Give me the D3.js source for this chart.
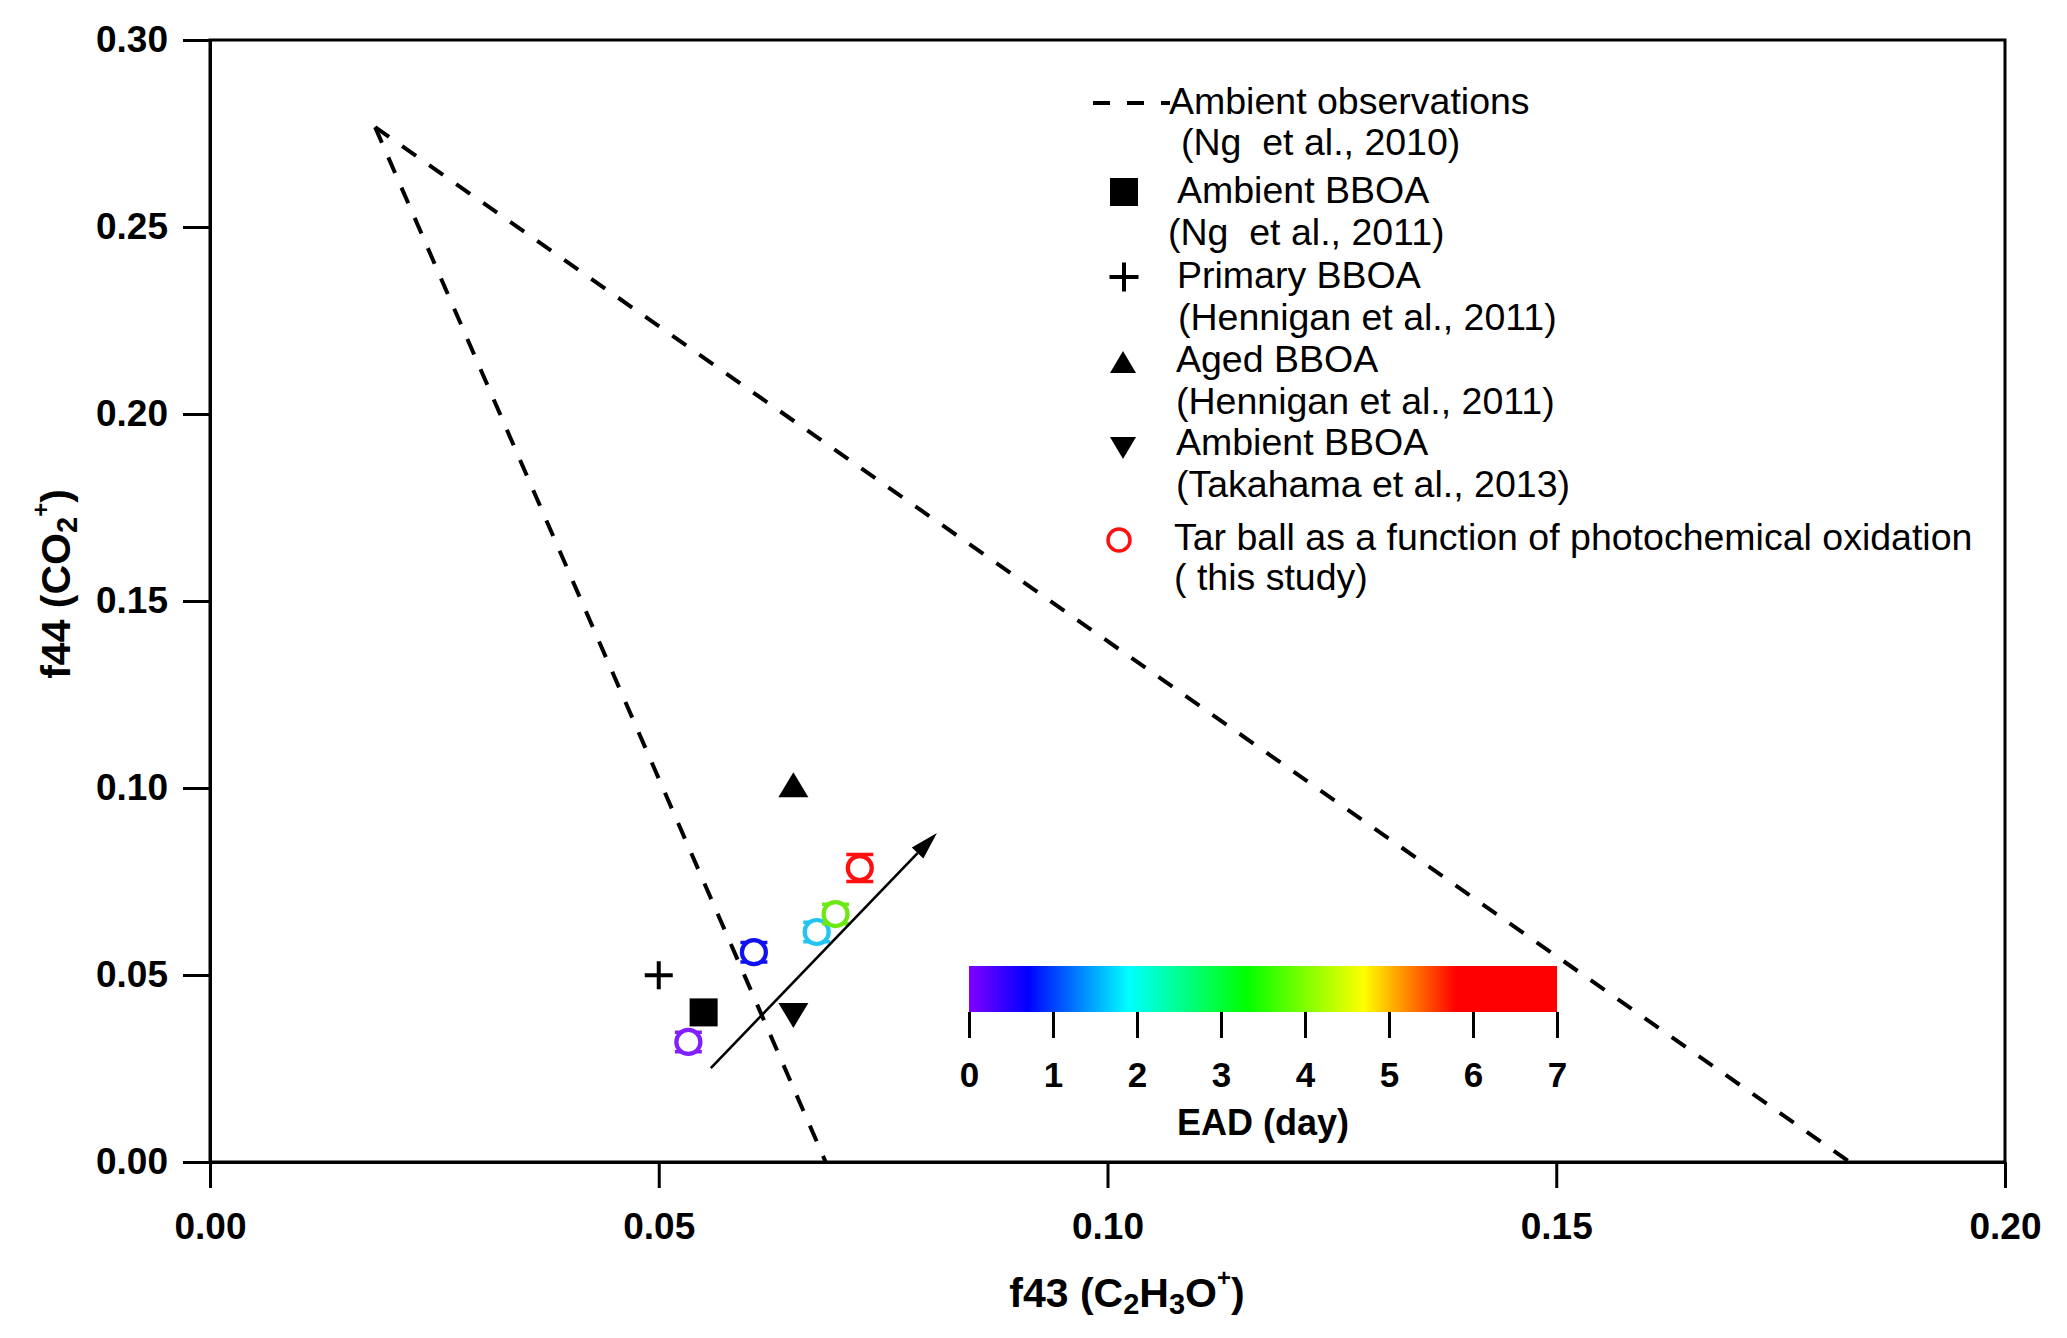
<!DOCTYPE html>
<html><head><meta charset="utf-8">
<script src="https://cdn.jsdelivr.net/npm/d3@7"></script>
<style>
body{margin:0;background:#fff}
text{font-family:"Liberation Sans",Arial,Helvetica,sans-serif;white-space:pre}
</style>
</head><body>
<svg id="chart" width="2067" height="1338"></svg>
<script>
// ---------- data ----------
const xTicks = [0, 0.05, 0.10, 0.15, 0.20];
const yTicks = [0, 0.05, 0.10, 0.15, 0.20, 0.25, 0.30];

// Ng et al. (2010) triangle: apex and two bottom ends
const ngApex = [0.0184, 0.2767];
const ngLeftEnd = [0.0686, 0.0];
const ngRightEnd = [0.1827, 0.0];

// reference points [f43, f44]
const ambientBBOA_Ng = [0.0550, 0.0400];
const primaryBBOA = [0.0500, 0.0499];
const agedBBOA = [0.0650, 0.1009];
const ambientBBOA_Takahama = [0.0650, 0.0392];

// tar ball (this study)
const tarF43 = [0.0533, 0.0606, 0.0676, 0.0697, 0.0724];
const tarF44 = [0.0321, 0.0561, 0.0615, 0.0663, 0.0786];
const tarErr = [0.0026, 0.0026, 0.0026, 0.0026, 0.0036];
const tarColors = ["#8020ff", "#1010f0", "#22c4f2", "#6ee814", "#ff1010"];

// arrow of oxidation
const arrowStart = [0.0558, 0.0251];
const arrowEnd = [0.0810, 0.0880];

// colour bar (EAD, day)
const cbTicks = [0, 1, 2, 3, 4, 5, 6, 7];
const cbStopDays = [0, 0.7, 1.9, 3.3, 4.7, 5.8, 7];
const cbStopColors = ["#8000ff", "#0000ff", "#00ffff", "#00ff00", "#ffff00", "#ff0000", "#ff0000"];

// legend
const legendLines = [
  "Ambient observations", "(Ng  et al., 2010)",
  "Ambient BBOA", "(Ng  et al., 2011)",
  "Primary BBOA", "(Hennigan et al., 2011)",
  "Aged BBOA", "(Hennigan et al., 2011)",
  "Ambient BBOA", "(Takahama et al., 2013)",
  "Tar ball as a function of photochemical oxidation", "( this study)"
];

// ---------- layout ----------
const svg = d3.select("#chart");
const L = 210, R = 2005, T = 40, B = 1162;
const x = d3.scaleLinear().domain([0, 0.2]).range([L, R]);
const y = d3.scaleLinear().domain([0, 0.3]).range([B, T]);

svg.append("rect").attr("width", 2067).attr("height", 1338).attr("fill", "#fff");

// frame
svg.append("rect").attr("x", L).attr("y", T).attr("width", R - L).attr("height", B - T)
  .attr("fill", "none").attr("stroke", "#000").attr("stroke-width", 3);

// axes
const yAxis = svg.append("g").attr("transform", `translate(${L},0)`)
  .call(d3.axisLeft(y).tickValues(yTicks).tickFormat(d3.format(".2f")).tickSize(27).tickSizeOuter(0).tickPadding(15));
const xAxis = svg.append("g").attr("transform", `translate(0,${B})`)
  .call(d3.axisBottom(x).tickValues(xTicks).tickFormat(d3.format(".2f")).tickSize(26).tickSizeOuter(0).tickPadding(25));
[yAxis, xAxis].forEach(g => {
  g.select(".domain").attr("stroke-width", 3);
  g.selectAll(".tick line").attr("stroke-width", 3);
  g.selectAll(".tick text").attr("font-size", 37).attr("font-weight", "bold")
    .attr("fill", "#000").style("font-family", '"Liberation Sans",Arial,sans-serif');
});

// axis titles
const xt = svg.append("text").attr("x", 1127).attr("y", 1307).attr("text-anchor", "middle")
  .attr("font-size", 41).attr("font-weight", "bold");
xt.append("tspan").text("f43 (C");
xt.append("tspan").attr("dy", 7).attr("font-size", 29).text("2");
xt.append("tspan").attr("dy", -7).text("H");
xt.append("tspan").attr("dy", 7).attr("font-size", 29).text("3");
xt.append("tspan").attr("dy", -7).text("O");
xt.append("tspan").attr("dy", -21).attr("font-size", 24).text("+");
xt.append("tspan").attr("dy", 21).text(")");

const yt = svg.append("text").attr("transform", "translate(70,584) rotate(-90)")
  .attr("text-anchor", "middle").attr("font-size", 41).attr("font-weight", "bold");
yt.append("tspan").text("f44 (CO");
yt.append("tspan").attr("dy", 7).attr("font-size", 29).text("2");
yt.append("tspan").attr("dy", -28).attr("font-size", 24).text("+");
yt.append("tspan").attr("dy", 21).text(")");

// dashed Ng triangle
const line = d3.line().x(d => x(d[0])).y(d => y(d[1]));
[[ngApex, ngLeftEnd], [ngApex, ngRightEnd]].forEach(seg => {
  svg.append("path").attr("d", line(seg)).attr("fill", "none").attr("stroke", "#000")
    .attr("stroke-width", 4).attr("stroke-dasharray", "17,16");
});

// reference markers
function triPath(cx, cy, w, h, up) {
  return up
    ? `M${cx - w / 2},${cy + h / 2}L${cx + w / 2},${cy + h / 2}L${cx},${cy - h / 2}Z`
    : `M${cx - w / 2},${cy - h / 2}L${cx + w / 2},${cy - h / 2}L${cx},${cy + h / 2}Z`;
}
function drawSquare(cx, cy, s) {
  svg.append("rect").attr("x", cx - s / 2).attr("y", cy - s / 2).attr("width", s).attr("height", s).attr("fill", "#000");
}
function drawPlus(cx, cy, s) {
  svg.append("path").attr("d", `M${cx - s / 2},${cy}H${cx + s / 2}M${cx},${cy - s / 2}V${cy + s / 2}`)
    .attr("stroke", "#000").attr("stroke-width", 4).attr("fill", "none");
}
drawSquare(x(ambientBBOA_Ng[0]), y(ambientBBOA_Ng[1]), 28);
drawPlus(x(primaryBBOA[0]), y(primaryBBOA[1]), 28);
svg.append("path").attr("d", triPath(x(agedBBOA[0]), y(agedBBOA[1]), 30, 25, true)).attr("fill", "#000");
svg.append("path").attr("d", triPath(x(ambientBBOA_Takahama[0]), y(ambientBBOA_Takahama[1]), 30, 25, false)).attr("fill", "#000");

// tar ball points with error bars
tarF43.forEach((f43, i) => {
  const cx = x(f43), cy = y(tarF44[i]);
  const y1 = y(tarF44[i] + tarErr[i]), y2 = y(tarF44[i] - tarErr[i]);
  svg.append("path").attr("d", `M${cx},${y1}V${y2}M${cx - 13.5},${y1}H${cx + 13.5}M${cx - 13.5},${y2}H${cx + 13.5}`)
    .attr("stroke", tarColors[i]).attr("stroke-width", 3.5).attr("fill", "none");
  svg.append("circle").attr("cx", cx).attr("cy", cy).attr("r", 12)
    .attr("fill", "#fff").attr("stroke", tarColors[i]).attr("stroke-width", 4.2);
});

// arrow
{
  const x1 = x(arrowStart[0]), y1 = y(arrowStart[1]), x2 = x(arrowEnd[0]), y2 = y(arrowEnd[1]);
  const ang = Math.atan2(y2 - y1, x2 - x1), hl = 28, hw = 8;
  const bx = x2 - hl * Math.cos(ang), by = y2 - hl * Math.sin(ang);
  svg.append("path").attr("d", `M${x1},${y1}L${bx},${by}`).attr("stroke", "#000").attr("stroke-width", 2.6);
  svg.append("path").attr("d",
    `M${x2},${y2}L${bx + hw * Math.sin(ang)},${by - hw * Math.cos(ang)}L${bx - hw * Math.sin(ang)},${by + hw * Math.cos(ang)}Z`)
    .attr("fill", "#000");
}

// colour bar
const cb = d3.scaleLinear().domain([0, 7]).range([969, 1557]);
const grad = svg.append("defs").append("linearGradient").attr("id", "ead").attr("x1", "0%").attr("x2", "100%");
cbStopDays.forEach((d, i) => grad.append("stop").attr("offset", (d / 7 * 100) + "%").attr("stop-color", cbStopColors[i]));
svg.append("rect").attr("x", cb(0)).attr("y", 966).attr("width", cb(7) - cb(0)).attr("height", 46).attr("fill", "url(#ead)");
const cbAxis = svg.append("g").attr("transform", "translate(0,1012)")
  .call(d3.axisBottom(cb).tickValues(cbTicks).tickFormat(d3.format("d")).tickSize(26).tickSizeOuter(0).tickPadding(24));
cbAxis.select(".domain").remove();
cbAxis.selectAll(".tick line").attr("stroke-width", 3);
cbAxis.selectAll(".tick text").attr("font-size", 35).attr("font-weight", "bold").attr("fill", "#000")
  .style("font-family", '"Liberation Sans",Arial,sans-serif');
svg.append("text").attr("x", 1263).attr("y", 1135).attr("text-anchor", "middle")
  .attr("font-size", 36).attr("font-weight", "bold").text("EAD (day)");

// legend
const legX = [1169, 1181, 1177, 1168, 1177, 1178, 1176, 1176, 1176, 1176, 1174, 1174];
const legY = [114, 155, 203, 245, 288, 330, 372, 414, 455, 497, 550, 590];
legendLines.forEach((t, i) => {
  svg.append("text").attr("x", legX[i]).attr("y", legY[i]).attr("font-size", 37.5).text(t);
});
svg.append("path").attr("d", "M1093,103H1170").attr("stroke", "#000").attr("stroke-width", 4).attr("stroke-dasharray", "17,17");
drawSquare(1124, 192, 28);
drawPlus(1124, 277, 29);
svg.append("path").attr("d", triPath(1123, 362, 26, 22, true)).attr("fill", "#000");
svg.append("path").attr("d", triPath(1123, 448, 26, 22, false)).attr("fill", "#000");
svg.append("circle").attr("cx", 1119).attr("cy", 540).attr("r", 11).attr("fill", "#fff")
  .attr("stroke", tarColors[4]).attr("stroke-width", 3.5);
</script>
</body></html>
